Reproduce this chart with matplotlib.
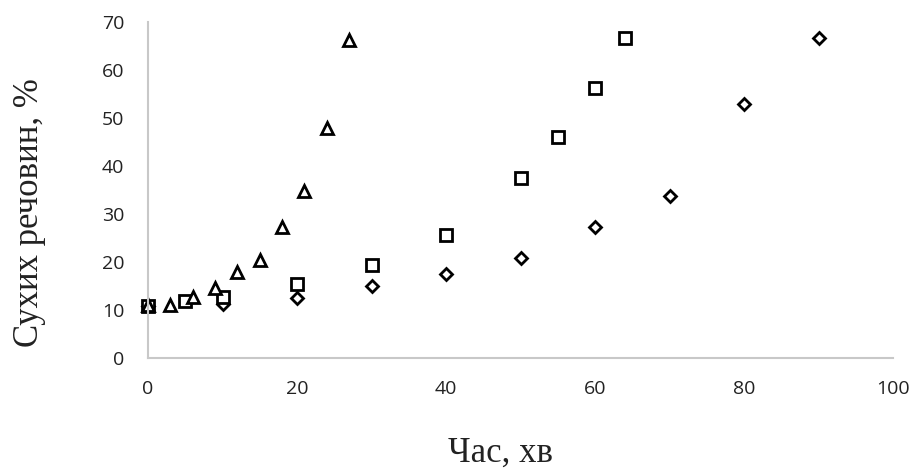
import matplotlib.pyplot as plt

# time, min / dry matter, %
t_tri = [0, 3, 6, 9, 12, 15, 18, 21, 24, 27]
y_tri = [11, 11, 12.8, 14.5, 17.9, 20.5, 27.2, 34.8, 48, 66.3]

t_sq = [0, 5, 10, 20, 30, 40, 50, 55, 60, 64]
y_sq = [10.8, 11.9, 12.8, 15.5, 19.3, 25.6, 37.6, 46, 56.2, 66.6]

t_dia = [0, 10, 20, 30, 40, 50, 60, 70, 80, 90]
y_dia = [10.8, 11.2, 12.6, 15.1, 17.6, 20.9, 27.2, 33.8, 53, 66.6]

x_ticks = [0, 20, 40, 60, 80, 100]
y_ticks = [0, 10, 20, 30, 40, 50, 60, 70]

fig = plt.figure(figsize=(9.15, 4.72), dpi=100)
ax = fig.add_axes([148 / 915, 1 - 358 / 472, (893 - 148) / 915, (358 - 22) / 472])

mk = dict(linestyle='none', markerfacecolor='white', markeredgecolor='black',
          markeredgewidth=2, clip_on=False)
ax.plot(t_dia, y_dia, marker='D', markersize=6.5, **mk)
ax.plot(t_sq, y_sq, marker='s', markersize=8, **mk)
ax.plot(t_tri, y_tri, marker='^', markersize=8, **mk)

ax.set_xlim(0, 100)
ax.set_ylim(0, 70)
ax.set_xticks(x_ticks)
ax.set_yticks(y_ticks)
ax.tick_params(length=0, labelsize=14, colors='#222222')
ax.tick_params(axis='x', pad=16)
ax.tick_params(axis='y', pad=17)
for lab in ax.get_xticklabels() + ax.get_yticklabels():
    lab.set_family('Open Sans')

for s in ['top', 'right']:
    ax.spines[s].set_visible(False)
for s in ['left', 'bottom']:
    ax.spines[s].set_color('#c8c8c8')
    ax.spines[s].set_linewidth(1.5)

fig.text(500 / 915, 1 - 453 / 472, 'Час, хв', family='Liberation Serif',
         fontsize=25, ha='center', va='center', color='#222222')
fig.text(30 / 915, 1 - 213 / 472, 'Сухих речовин, %', family='Liberation Serif',
         fontsize=25, ha='center', va='center', rotation=90, color='#222222')

fig.savefig('out.png', dpi=100)
